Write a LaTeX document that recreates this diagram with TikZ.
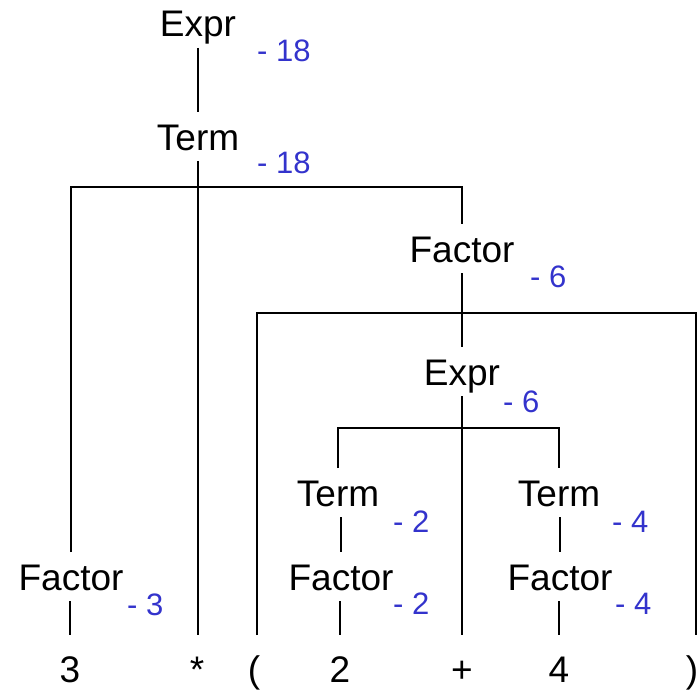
\documentclass[tikz,border=0pt]{standalone}
\usepackage{fontspec}
\setmainfont{Liberation Sans}
\usetikzlibrary{positioning}
\definecolor{valblue}{RGB}{51,51,204}

\begin{document}
\begin{tikzpicture}[
    x=1pt, y=-1pt,
    sym/.style={font=\fontsize{37}{40}\selectfont, anchor=base, inner sep=0pt, text height=27pt, text depth=0pt, outer xsep=0pt, outer ysep=11pt},
    leaf/.style={sym, outer ysep=20pt},
    val/.style={font=\fontsize{31}{34}\selectfont, text=valblue, anchor=base west, inner sep=0pt},
    edge/.style={draw=black, line width=1.5pt}
  ]
    \useasboundingbox (0,0) rectangle (699,690);
    % nonterminals
    \node[sym] (exprTop) at (198, 37) {Expr};
    \node[sym] (termTop) at (198, 150) {Term};
    \node[sym] (facParen) at (462, 262) {Factor};
    \node[sym] (exprIn) at (462, 385) {Expr};
    \node[sym] (termL) at (338, 506) {Term};
    \node[sym] (termR) at (559, 506) {Term};
    \node[sym] (fac3) at (71, 590) {Factor};
    \node[sym] (facL) at (341, 590) {Factor};
    \node[sym] (facR) at (560, 590) {Factor};
    % tokens
    \node[leaf] (tok3) at (70, 682) {3};
    \node[leaf] (tokStar) at (197, 682) {*};
    \node[leaf] (tokL) at (254, 682) {(};
    \node[leaf] (tok2) at (340, 682) {2};
    \node[leaf] (tokPlus) at (462, 682) {+};
    \node[leaf] (tok4) at (559, 682) {4};
    \node[leaf] (tokR) at (692, 682) {)};
    % values
    \node[val] (vExprTop) at (257, 62) {- 18};
    \node[val] (vTermTop) at (257, 174) {- 18};
    \node[val] (vFacParen) at (530, 287) {- 6};
    \node[val] (vExprIn) at (503, 412) {- 6};
    \node[val] (vTermL) at (393, 532) {- 2};
    \node[val] (vTermR) at (612, 532) {- 4};
    \node[val] (vFac3) at (127, 615) {- 3};
    \node[val] (vFacL) at (393, 614) {- 2};
    \node[val] (vFacR) at (615, 614) {- 4};
    % bars
    \coordinate (barTerm) at (0, 187);
    \coordinate (barParen) at (0, 313);
    \coordinate (barExpr) at (0, 428);
    % edges
    \draw[edge] (exprTop) -- (termTop);
    \draw[edge] (termTop) -- (termTop |- tokStar.north);
    \draw[edge] (fac3) -- (fac3 |- barTerm) -- (facParen |- barTerm) -- (facParen);
    \draw[edge] (facParen) -- (exprIn);
    \draw[edge] (tokL.north -| 257,0) -- (257,313) -- (696,313) -- (tokR.north -| 696,0);
    \draw[edge] (exprIn) -- (tokPlus);
    \draw[edge] (termL) -- (termL |- barExpr) -- (termR |- barExpr) -- (termR);
    \draw[edge] (termL.south -| facL) -- (facL);
    \draw[edge] (termR.south -| facR) -- (facR);
    \draw[edge] (fac3.south -| tok3) -- (tok3);
    \draw[edge] (facL.south -| tok2) -- (tok2);
    \draw[edge] (facR.south -| tok4) -- (tok4);
  \end{tikzpicture}
\end{document}
